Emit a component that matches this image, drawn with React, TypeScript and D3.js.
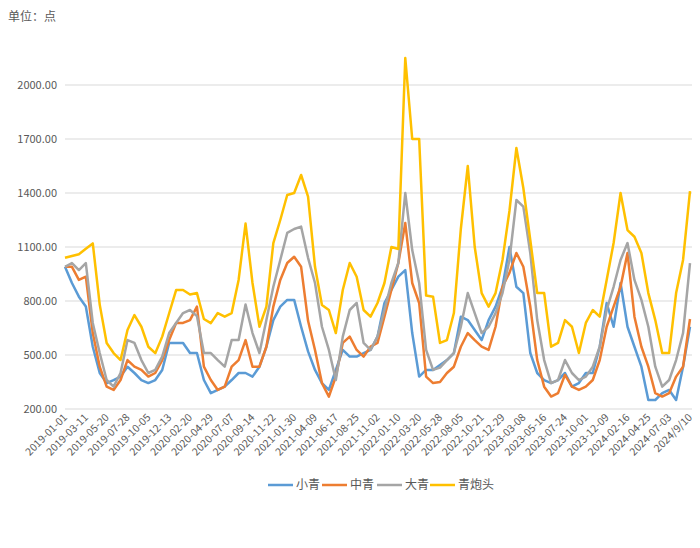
import React from "react";
import * as d3 from "d3";

// Category axis: daily dates, a tick label every 69 categories
const tickLabels = [
  "2019-01-01", "2019-03-11", "2019-05-20", "2019-07-28", "2019-10-05", "2019-12-13",
  "2020-02-20", "2020-04-29", "2020-07-07", "2020-09-14", "2020-11-22",
  "2021-01-30", "2021-04-09", "2021-06-17", "2021-08-25", "2021-11-02",
  "2022-01-10", "2022-03-20", "2022-05-28", "2022-08-05", "2022-10-21", "2022-12-29",
  "2023-03-08", "2023-05-16", "2023-07-24", "2023-10-01", "2023-12-09",
  "2024-02-16", "2024-04-25", "2024-07-03", "2024/9/10",
];
const TICK_EVERY = 69;
const SAMPLE_EVERY = 23; // values below are read every 23 categories

const seriesNames = ["小青", "中青", "大青", "青炮头"];
const seriesColors = ["#5B9BD5", "#ED7D31", "#A5A5A5", "#FFC000"];

const xiaoQing = [
  990, 900, 824, 769, 546, 400, 344, 361, 380, 435, 400, 361, 344, 361, 417, 567, 567, 567, 511,
  511, 361, 288, 306, 324, 361, 400, 400, 380, 435, 546, 694, 769, 806, 806, 657, 520, 417,
  344, 306, 417, 528, 491, 491, 510, 528, 602, 789, 861, 935, 972, 622, 380, 417, 417, 445,
  472, 511, 713, 694, 639, 583, 694, 769, 879, 1100, 879, 844, 511, 400, 361, 344, 361, 400,
  324, 344, 400, 400, 546, 789, 657, 900, 657, 546, 435, 250, 250, 288, 306, 250, 435, 657,
];
const zhongQing = [
  990, 990, 917, 935, 622, 435, 324, 306, 361, 472, 435, 417, 380, 400, 472, 583, 678, 678, 694,
  769, 435, 361, 306, 324, 435, 472, 583, 435, 435, 546, 769, 917, 1011, 1046, 990, 690, 528,
  344, 269, 380, 567, 602, 528, 491, 546, 567, 713, 861, 1011, 1233, 900, 789, 380, 344, 350,
  400, 435, 546, 622, 583, 546, 528, 657, 879, 956, 1067, 990, 769, 472, 324, 269, 288, 390,
  324, 306, 324, 361, 472, 657, 769, 879, 1067, 713, 546, 435, 288, 269, 288, 380, 435, 700,
];
const daQing = [
  990, 1011, 972, 1011, 678, 511, 361, 324, 400, 583, 567, 472, 400, 417, 491, 622, 678, 733, 750,
  716, 511, 511, 472, 435, 583, 583, 780, 622, 511, 694, 879, 1028, 1178, 1200, 1213, 1040, 900,
  657, 528, 361, 602, 750, 789, 567, 528, 602, 750, 900, 1011, 1400, 1083, 900, 528, 417, 430,
  472, 511, 657, 844, 733, 622, 657, 733, 844, 1028, 1361, 1324, 1067, 694, 472, 344, 361, 472,
  400, 361, 380, 435, 546, 750, 879, 1028, 1122, 917, 806, 657, 435, 324, 361, 472, 622, 1011,
];
const qingPaoTou = [
  1040, 1050, 1060, 1090, 1120, 780, 567, 511, 472, 639, 722, 657, 546, 510, 602, 732, 861, 861, 836,
  844, 700, 677, 733, 713, 733, 917, 1230, 900, 657, 769, 1122, 1250, 1389, 1400, 1500, 1380, 990,
  778, 750, 622, 861, 1011, 935, 750, 713, 789, 900, 1100, 1089, 2150, 1700, 1700, 830, 824, 567,
  583, 733, 1200, 1550, 1100, 844, 769, 844, 1028, 1300, 1650, 1428, 1139, 844, 844, 546, 567, 694,
  657, 511, 678, 750, 713, 917, 1122, 1400, 1194, 1157, 1067, 844, 694, 511, 511, 844, 1028, 1410,
];
const seriesValues = [xiaoQing, zhongQing, daQing, qingPaoTou];

const yTicks = [200, 500, 800, 1100, 1400, 1700, 2000];

const FONT = "'Noto Sans CJK SC', 'Noto Sans', sans-serif";

export default function App() {
  const W = 700;
  const H = 548;
  const lastIndex = (tickLabels.length - 1) * TICK_EVERY;
  const x = d3.scaleLinear().domain([0, lastIndex]).range([65, 690]);
  const y = d3.scaleLinear().domain([200, 2300]).range([409, 31]);

  const line = d3
    .line<number>()
    .x((_, i) => x(Math.min(i * SAMPLE_EVERY, lastIndex)))
    .y((d) => y(d));

  const legendX = [268, 322, 377, 430];

  return (
    <svg
      width={W}
      height={H}
      style={{ position: "absolute", left: 0, top: 0, background: "#fff" }}
      fontFamily={FONT}
    >
      <rect width={W} height={H} fill="#fff" />
      <text x={8} y={21} fontSize={12} fill="#595959">单位：点</text>

      {yTicks.map((t) => (
        <g key={t}>
          <line x1={65} x2={692} y1={y(t)} y2={y(t)} stroke="#d9d9d9" strokeWidth={1} />
          <text x={57} y={y(t)} dy="0.35em" textAnchor="end" fontSize={11} fill="#595959">
            {t.toFixed(2)}
          </text>
        </g>
      ))}

      {seriesValues.map((vals, si) => (
        <path
          key={si}
          d={line(vals) || ""}
          fill="none"
          stroke={seriesColors[si]}
          strokeWidth={2.5}
          strokeLinejoin="round"
        />
      ))}

      {tickLabels.map((lab, k) => {
        const tx = x(k * TICK_EVERY);
        return (
          <text
            key={lab}
            transform={`translate(${tx + 3},${418}) rotate(-45)`}
            textAnchor="end"
            fontSize={10.5}
            fill="#595959"
          >
            {lab}
          </text>
        );
      })}

      {seriesNames.map((name, si) => (
        <g key={name}>
          <line
            x1={legendX[si]}
            x2={legendX[si] + 25}
            y1={485}
            y2={485}
            stroke={seriesColors[si]}
            strokeWidth={2.5}
          />
          <text x={legendX[si] + 28} y={485} dy="0.35em" fontSize={12} fill="#595959">
            {name}
          </text>
        </g>
      ))}
    </svg>
  );
}
